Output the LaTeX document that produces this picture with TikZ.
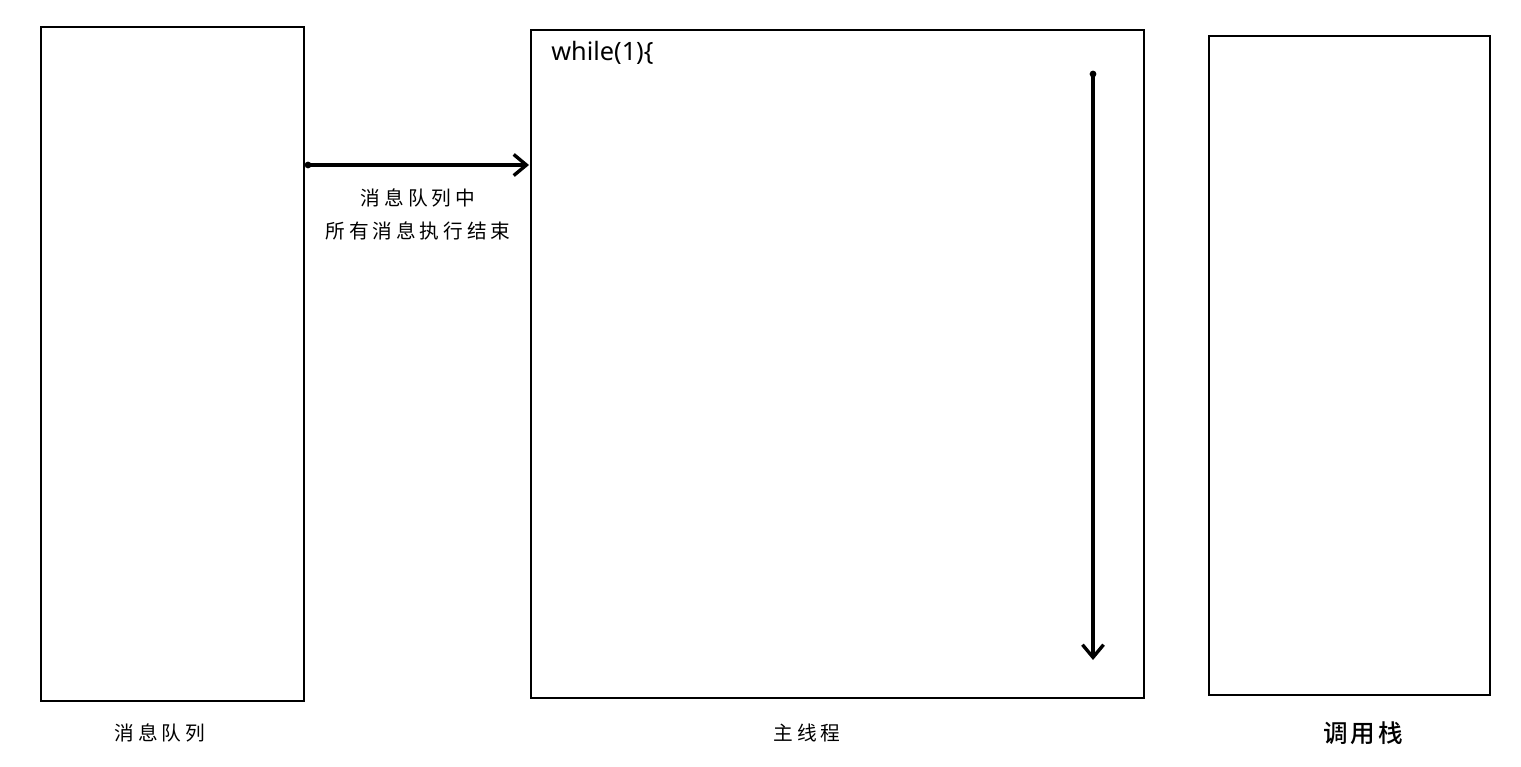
\documentclass[tikz,border=0pt]{standalone}
\usepackage{fontspec}
\newfontfamily\cjk[LetterSpace=20]{Noto Sans CJK SC}
\newfontfamily\cjkb[LetterSpace=12]{Noto Sans CJK SC Medium}
\setmainfont{Noto Sans}
\usetikzlibrary{arrows.meta}
\tikzset{
    panel/.style={draw, line width=1.1pt, inner sep=0pt},
    flow/.style={line width=2.4pt, -{Straight Barb[length=9pt, width=15pt, line width=2.4pt]}},
    tag/.style={font=\cjk\fontsize{14}{20}\selectfont, inner sep=0pt, align=center}
}
\begin{document}
\begin{tikzpicture}[x=0.025cm, y=-0.025cm]
        \useasboundingbox (0,0) rectangle (1521,767);
        % the three boxes
        \node[panel, minimum width=6.575cm, minimum height=16.85cm] (queue) at (172.5,364) {};
        \node[panel, minimum width=15.325cm, minimum height=16.7cm] (main) at (837.5,364) {};
        \node[panel, minimum width=7.025cm, minimum height=16.475cm] (stack) at (1349.5,365.5) {};
        % names under the boxes
        \node[tag] (queuename) at (160,733) {消息队列};
        \node[tag] (mainname) at (807,733) {主线程};
        \node[tag, font=\cjkb\fontsize{17.5}{20}\selectfont] (stackname) at (1363,733) {调用栈};
        % loop
        \node[anchor=west, inner sep=0pt, font=\fontsize{18}{22}\selectfont] (loop) at (551,53) {while(1)\{};
        \coordinate (looptop) at (1093,74);
        \coordinate (loopend) at (1093,660);
        \draw[flow] (looptop) -- (loopend);
        \fill (looptop) circle (2.4pt);
        % from the queue to the main thread
        \coordinate (qout) at (308,165);
        \coordinate (min) at (529,165);
        \draw[flow] (qout) -- (min);
        \fill (qout) circle (2.4pt);
        \node[tag] (done1) at (418,198) {消息队列中};
        \node[tag] (done2) at (418,231) {所有消息执行结束};
    \end{tikzpicture}
\end{document}
